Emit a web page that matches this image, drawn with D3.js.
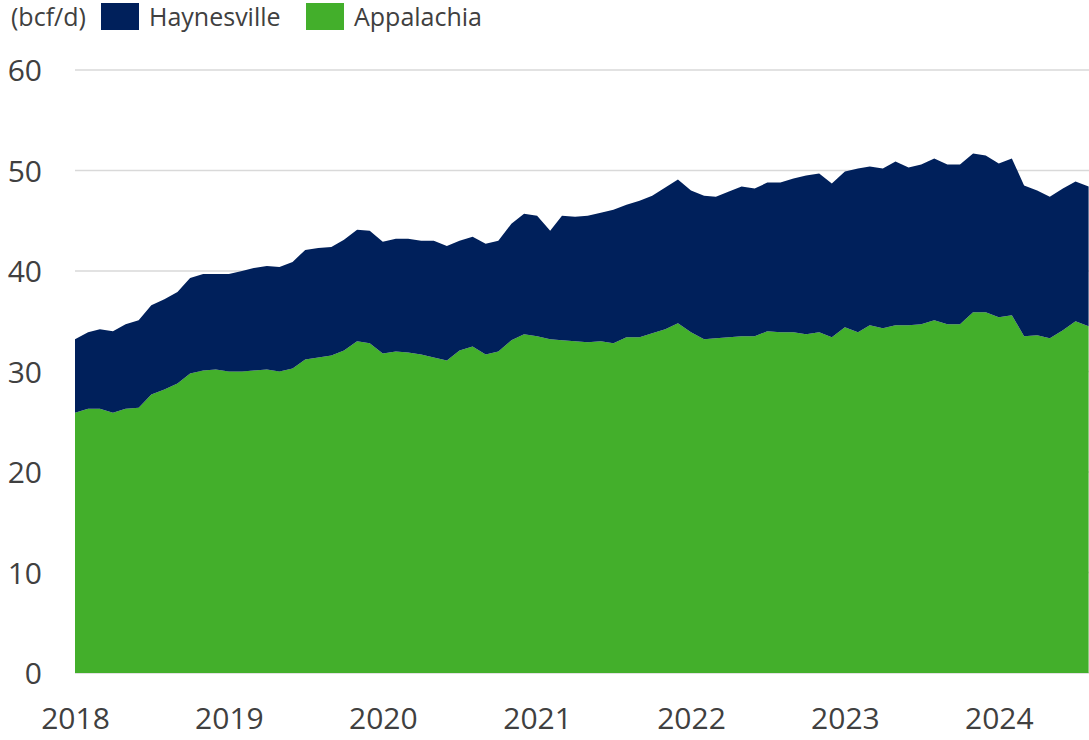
<!DOCTYPE html>
<html>
<head>
<meta charset="utf-8">
<script src="https://cdn.jsdelivr.net/npm/d3@7"></script>
<style>
  html, body { margin: 0; padding: 0; background: #fff; }
  svg { display: block; font-family: "Open Sans", sans-serif; }
</style>
</head>
<body>
<div id="chart"></div>
<script>
// monthly, Jan 2018 .. Aug 2024 (bcf/d)
const APPALACHIA = [
  25.9, 26.3, 26.3, 25.9, 26.3, 26.4, 27.7, 28.2, 28.8, 29.8, 30.1, 30.2,
  30.0, 30.0, 30.1, 30.2, 30.0, 30.3, 31.2, 31.4, 31.6, 32.1, 33.0, 32.8,
  31.8, 32.0, 31.9, 31.7, 31.4, 31.1, 32.1, 32.5, 31.7, 32.0, 33.1, 33.7,
  33.5, 33.2, 33.1, 33.0, 32.9, 33.0, 32.8, 33.4, 33.4, 33.8, 34.2, 34.8,
  33.9, 33.2, 33.3, 33.4, 33.5, 33.5, 34.0, 33.9, 33.9, 33.7, 33.9, 33.4,
  34.4, 33.9, 34.6, 34.3, 34.6, 34.6, 34.7, 35.1, 34.7, 34.7, 35.9, 35.9,
  35.4, 35.6, 33.5, 33.6, 33.3, 34.1, 35.0, 34.5
];
const HAYNESVILLE = [
  7.3, 7.6, 7.9, 8.1, 8.4, 8.7, 8.9, 9.0, 9.1, 9.5, 9.6, 9.5,
  9.7, 10.0, 10.2, 10.3, 10.4, 10.6, 10.9, 10.9, 10.8, 11.0, 11.1, 11.2,
  11.1, 11.2, 11.3, 11.3, 11.6, 11.4, 10.9, 10.9, 11.0, 11.0, 11.6, 12.0,
  12.0, 10.8, 12.4, 12.4, 12.6, 12.8, 13.3, 13.2, 13.6, 13.7, 14.1, 14.3,
  14.1, 14.3, 14.1, 14.5, 14.9, 14.7, 14.8, 14.9, 15.3, 15.8, 15.8, 15.3,
  15.5, 16.3, 15.8, 15.9, 16.3, 15.7, 15.9, 16.1, 15.9, 15.9, 15.8, 15.6,
  15.3, 15.6, 15.0, 14.4, 14.1, 14.1, 13.9, 13.9
];
const MONTHS = d3.timeMonth.range(new Date(2018, 0, 1), new Date(2024, 8, 1));
const YEAR_TICKS = [2018, 2019, 2020, 2021, 2022, 2023, 2024];
const Y_TICKS = [0, 10, 20, 30, 40, 50, 60];

const SERIES = ["Appalachia", "Haynesville"];
const COLORS = { Appalachia: "#43af2b", Haynesville: "#00205b" };
const LEGEND_ORDER = ["Haynesville", "Appalachia"];

const WIDTH = 1089;
const HEIGHT = 740;
const X0 = 75, X1 = 1088.6, Y0 = 673, Y1 = 70;
const TEXT = "#404040";

const rows = MONTHS.map((d, i) => ({
  date: d,
  Appalachia: APPALACHIA[i],
  Haynesville: HAYNESVILLE[i]
}));

const svg = d3.select("#chart").append("svg")
  .attr("width", WIDTH)
  .attr("height", HEIGHT);

const x = d3.scaleTime()
  .domain([MONTHS[0], MONTHS[MONTHS.length - 1]])
  .range([X0, X1]);

const y = d3.scaleLinear()
  .domain([0, 60])
  .range([Y0, Y1]);

// gridlines
svg.append("g")
  .selectAll("line")
  .data(Y_TICKS)
  .join("line")
  .attr("x1", X0)
  .attr("x2", WIDTH)
  .attr("y1", d => y(d))
  .attr("y2", d => y(d))
  .attr("stroke", "#d9d9d9")
  .attr("stroke-width", 1.5);

const stacked = d3.stack().keys(SERIES)(rows);

const area = d3.area()
  .x(d => x(d.data.date))
  .y0(d => y(d[0]))
  .y1(d => y(d[1]));

svg.append("g")
  .selectAll("path")
  .data(stacked)
  .join("path")
  .attr("fill", d => COLORS[d.key])
  .attr("d", area);

// y axis labels
const yAxis = svg.append("g")
  .attr("transform", `translate(42,0)`)
  .call(d3.axisLeft(y).tickValues(Y_TICKS).tickSize(0).tickPadding(0));
yAxis.select(".domain").remove();
yAxis.selectAll("text")
  .attr("fill", TEXT)
  .style("font-size", "30px")
  .style("font-family", "Open Sans, sans-serif")
  .attr("dy", "0.36em");

// x axis labels
const xAxis = svg.append("g")
  .attr("transform", `translate(0,${Y0})`)
  .call(d3.axisBottom(x)
    .tickValues(YEAR_TICKS.map(yr => new Date(yr, 0, 1)))
    .tickFormat(d3.timeFormat("%Y"))
    .tickSize(0)
    .tickPadding(35));
xAxis.select(".domain").remove();
xAxis.selectAll("text")
  .attr("fill", TEXT)
  .style("font-size", "30px")
  .style("font-family", "Open Sans, sans-serif");

// legend
const legend = svg.append("g");
legend.append("text")
  .attr("x", 11)
  .attr("y", 26)
  .attr("fill", TEXT)
  .style("font-size", "25px")
  .text("(bcf/d)");

const legendPos = { Haynesville: 101, Appalachia: 306 };
LEGEND_ORDER.forEach(k => {
  legend.append("rect")
    .attr("x", legendPos[k])
    .attr("y", 3)
    .attr("width", 38)
    .attr("height", 27)
    .attr("fill", COLORS[k]);
  legend.append("text")
    .attr("x", legendPos[k] + 48)
    .attr("y", 26)
    .attr("fill", TEXT)
    .style("font-size", "25px")
    .text(k);
});
</script>
</body>
</html>
